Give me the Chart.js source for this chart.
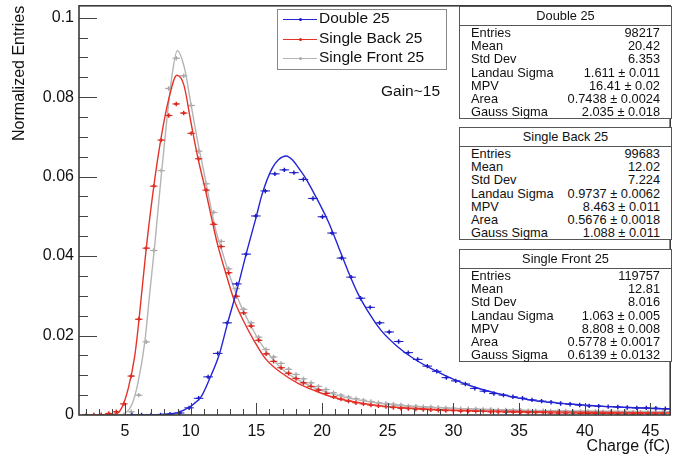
<!DOCTYPE html>
<html><head><meta charset="utf-8">
<script src="https://cdn.jsdelivr.net/npm/chart.js@4.4.0/dist/chart.umd.min.js"></script>
<style>
html,body{margin:0;padding:0;background:#fff;overflow:hidden;width:674px;height:456px}
#wrap{position:relative;width:676px;height:456px}
#c{position:absolute;left:0;top:0}
.ov{position:absolute;font-family:"Liberation Sans",Arial,Helvetica,sans-serif;color:#111;white-space:nowrap}
.box{position:absolute;border:1px solid #555;background:#fff;box-sizing:border-box;font-family:"Liberation Sans",Arial,Helvetica,sans-serif;color:#111;font-size:12.8px}
.box .ttl{position:absolute;left:0;right:0;top:0;height:18px;line-height:18px;text-align:center;border-bottom:1px solid #555}
.box .row{position:absolute;left:11px;right:11px;height:13.2px;line-height:13.2px}
.box .row .l{position:absolute;left:0}
.box .row .v{position:absolute;right:0}
.leg{position:absolute;border:1px solid #888;background:#fff;box-sizing:border-box;font-family:"Liberation Sans",Arial,Helvetica,sans-serif;color:#111;font-size:15.5px}
.leg .ln{position:absolute;height:0;border-top:1px solid}
.leg .dot{position:absolute;width:3px;height:3px;border-radius:50%}
.leg .tx{position:absolute;line-height:18px}
</style>
</head><body>
<div id="wrap"><canvas id="c" width="676" height="456"></canvas></div>
<script>
// ---------- data ----------
const xTickValues = [5, 10, 15, 20, 25, 30, 35, 40, 45];
const xTickLabels = ['5', '10', '15', '20', '25', '30', '35', '40', '45'];
const yTickValues = [0, 0.02, 0.04, 0.06, 0.08, 0.1];
const yTickLabels = ['0', '0.02', '0.04', '0.06', '0.08', '0.1'];

const seriesNames = ['Double 25', 'Single Back 25', 'Single Front 25'];

// bin centres (Charge, fC)
const doubleX = [5.53, 6.26, 6.98, 7.71, 8.43, 9.16, 9.88, 10.61, 11.33, 12.06, 12.78, 13.51, 14.23, 14.96, 15.68, 16.41,
  17.13, 17.86, 18.58, 19.31, 20.03, 20.76, 21.48, 22.21, 22.93, 23.66, 24.38, 25.11, 25.83, 26.56, 27.28, 28.01, 28.73,
  29.46, 30.18, 30.91, 31.63, 32.36, 33.08, 33.81, 34.53, 35.26, 35.98, 36.71, 37.43, 38.16, 38.88, 39.61, 40.33, 41.06,
  41.78, 42.51, 43.23, 43.96, 44.68, 45.41, 46.13];
const doubleY = [0, 0, 0, 0, 0.0002, 0.0005, 0.0018, 0.0042, 0.0096, 0.0155, 0.0232, 0.0330, 0.0405, 0.0501, 0.0564, 0.0607,
  0.0617, 0.0610, 0.0593, 0.0545, 0.0499, 0.0458, 0.0395, 0.0347, 0.0294, 0.0271, 0.0232, 0.0209, 0.0185, 0.0157, 0.0140,
  0.0123, 0.0110, 0.0094, 0.0086, 0.0078, 0.0067, 0.0060, 0.0054, 0.0050, 0.0046, 0.0042, 0.0038, 0.0035, 0.0032, 0.0029,
  0.0027, 0.0025, 0.0023, 0.0022, 0.0021, 0.0020, 0.0019, 0.0018, 0.0018, 0.0017, 0.0016];

const singleX = [2.06, 2.63, 3.20, 3.77, 4.34, 4.91, 5.48, 6.05, 6.62, 7.19, 7.76, 8.33, 8.90, 9.47, 10.04, 10.61, 11.18,
  11.75, 12.32, 12.89, 13.46, 14.03, 14.60, 15.17, 15.74, 16.31, 16.88, 17.45, 18.02, 18.59, 19.16, 19.73, 20.30, 20.87,
  21.44, 22.01, 22.58, 23.15, 23.72, 24.29, 24.86, 25.43, 26.00, 26.57, 27.14, 27.71, 28.28, 28.85, 29.42, 29.99, 30.56,
  31.13, 31.70, 32.27, 32.84, 33.41, 33.98, 34.55, 35.12, 35.69, 36.26, 36.83, 37.40, 37.97, 38.54, 39.11, 39.68, 40.25,
  40.82, 41.39, 41.96, 42.53, 43.10, 43.67, 44.24, 44.81, 45.38, 45.95];
const backY = [0, 0, 0.0001, 0.0004, 0.0008, 0.0028, 0.0098, 0.0241, 0.0420, 0.0576, 0.0692, 0.0754,
  0.0783, 0.0760, 0.0709, 0.0645, 0.0566, 0.0480, 0.0424, 0.0358, 0.0299, 0.0257, 0.0224, 0.0188,
  0.0154, 0.0135, 0.0119, 0.0105, 0.0092, 0.0081, 0.0072, 0.0063, 0.0054, 0.0046, 0.0040, 0.0035,
  0.0031, 0.0028, 0.0025, 0.0023, 0.0021, 0.0019, 0.0017, 0.0016, 0.0015, 0.0014, 0.0013, 0.0012,
  0.0011, 0.0011, 0.0010, 0.0010, 0.0009, 0.0009, 0.0008, 0.0008, 0.0007, 0.0007, 0.0007, 0.0006,
  0.0006, 0.0006, 0.0005, 0.0005, 0.0005, 0.0005, 0.0004, 0.0004, 0.0004, 0.0004, 0.0004, 0.0003,
  0.0003, 0.0003, 0.0003, 0.0003, 0.0003, 0.0003];
const frontY = [0, 0, 0, 0, 0, 0.0001, 0.0008, 0.0050, 0.0184, 0.0414, 0.0615, 0.0822,
  0.0898, 0.0854, 0.0779, 0.0664, 0.0582, 0.0510, 0.0437, 0.0368, 0.0318, 0.0266, 0.0232, 0.0196,
  0.0165, 0.0146, 0.0130, 0.0115, 0.0102, 0.0091, 0.0081, 0.0072, 0.0064, 0.0056, 0.0050, 0.0045,
  0.0041, 0.0037, 0.0034, 0.0031, 0.0029, 0.0027, 0.0025, 0.0023, 0.0022, 0.0021, 0.0020, 0.0019,
  0.0018, 0.0017, 0.0016, 0.0016, 0.0015, 0.0014, 0.0014, 0.0013, 0.0013, 0.0012, 0.0012, 0.0011,
  0.0011, 0.0011, 0.0010, 0.0010, 0.0010, 0.0009, 0.0009, 0.0009, 0.0009, 0.0008, 0.0008, 0.0008,
  0.0008, 0.0007, 0.0007, 0.0007, 0.0007, 0.0007];

// fitted Landau (x) Gauss curves
const doubleFitX = [5.5, 7.0, 8.0, 9.0, 10.0, 10.8, 11.4, 12.2, 12.8, 13.55, 14.3, 15.0, 15.44, 16.19, 16.7, 17.28, 17.8,
  18.3, 18.71, 19.47, 20.47, 21.23, 21.98, 22.74, 23.74, 24.49, 25.75, 27.02, 28.53, 30.15, 32.0, 34.57, 37.0, 39.6, 42.5, 46.5];
const doubleFitY = [0, 0, 0.0002, 0.0006, 0.0022, 0.0046, 0.0088, 0.0155, 0.0230, 0.0318, 0.0415, 0.0500, 0.0556, 0.0620,
  0.0643, 0.0652, 0.0640, 0.0618, 0.0598, 0.0553, 0.0487, 0.0425, 0.0362, 0.0305, 0.0248, 0.0213, 0.0172, 0.0141, 0.0113,
  0.0088, 0.0066, 0.0045, 0.0033, 0.0026, 0.0020, 0.0015];
const backFitX = [3.5, 4.25, 4.75, 5.25, 5.75, 6.05, 6.62, 7.19, 7.76, 8.33, 8.95, 9.48, 10.03, 10.53, 11.17, 11.66, 12.04,
  12.8, 13.3, 14.06, 14.81, 15.69, 16.95, 18.21, 19.47, 20.72, 21.98, 24.49, 27.02, 29.53, 35, 40, 46.5];
const backFitY = [0, 0.0002, 0.0018, 0.0067, 0.0150, 0.0235, 0.0420, 0.0575, 0.0700, 0.0795, 0.0855, 0.0831, 0.0735,
  0.0650, 0.0560, 0.0485, 0.0430, 0.0343, 0.0290, 0.0234, 0.0188, 0.0142, 0.0105, 0.0079, 0.0061, 0.0046, 0.0036,
  0.0023, 0.0017, 0.0013, 0.0009, 0.0007, 0.0005];
const frontFitX = [4.87, 5.51, 6.0, 6.51, 6.89, 7.26, 7.39, 7.77, 8.15, 8.52, 8.98, 9.53, 10.03, 10.53, 11.04, 11.54, 11.92,
  12.42, 13.05, 13.81, 14.56, 15.44, 16.95, 18.21, 19.47, 20.72, 21.98, 24.49, 27.02, 29.53, 35, 40, 46.5];
const frontFitY = [0, 0.0025, 0.0083, 0.0184, 0.0309, 0.0426, 0.0472, 0.0606, 0.0731, 0.0840, 0.0917, 0.0873, 0.0781,
  0.0689, 0.0606, 0.0522, 0.0464, 0.0409, 0.0343, 0.0276, 0.0226, 0.0175, 0.0116, 0.0088, 0.0068, 0.0054, 0.0043,
  0.0029, 0.0021, 0.0017, 0.0012, 0.0010, 0.0008];

const statsDouble = [['Entries', '98217'], ['Mean', '20.42'], ['Std Dev', '6.353'], ['Landau Sigma', '1.611 \u00b1 0.011'],
  ['MPV', '16.41 \u00b1 0.02'], ['Area', '0.7438 \u00b1 0.0024'], ['Gauss Sigma', '2.035 \u00b1 0.018']];
const statsBack = [['Entries', '99683'], ['Mean', '12.02'], ['Std Dev', '7.224'], ['Landau Sigma', '0.9737 \u00b1 0.0062'],
  ['MPV', '8.463 \u00b1 0.011'], ['Area', '0.5676 \u00b1 0.0018'], ['Gauss Sigma', '1.088 \u00b1 0.011']];
const statsFront = [['Entries', '119757'], ['Mean', '12.81'], ['Std Dev', '8.016'], ['Landau Sigma', '1.063 \u00b1 0.005'],
  ['MPV', '8.808 \u00b1 0.008'], ['Area', '0.5778 \u00b1 0.0017'], ['Gauss Sigma', '0.6139 \u00b1 0.0132']];

// ---------- style ----------
const FONT = '"Liberation Sans", Arial, Helvetica, sans-serif';
const colors = ['#2323d8', '#e5332a', '#b4b4b4'];
const markColors = ['#1a1ac0', '#d9251c', '#a8a8a8'];

function pts(xs, ys) { return xs.map((x, i) => ({x: x, y: ys[i]})); }

function histSets(xs, ys, ci, halfW) {
  return [
    {type: 'scatter', data: pts(xs, ys), pointStyle: 'line', pointRadius: halfW, borderColor: markColors[ci], borderWidth: 1, backgroundColor: markColors[ci]},
    {type: 'scatter', data: pts(xs, ys), pointStyle: 'cross', pointRadius: 2.2, borderColor: markColors[ci], borderWidth: 1.4, backgroundColor: markColors[ci]}
  ];
}
function fitSet(xs, ys, ci) {
  return {type: 'line', data: pts(xs, ys), borderColor: colors[ci], borderWidth: 1.4, pointRadius: 0, cubicInterpolationMode: 'monotone', fill: false};
}

const frameTicks = {
  id: 'frameTicks',
  afterDatasetsDraw(chart) {
    const {ctx, chartArea: a, scales: {x, y}} = chart;
    ctx.save();
    ctx.strokeStyle = '#444';
    ctx.lineWidth = 1;
    ctx.beginPath();
    for (let v = 2; v <= 46; v++) {
      const px = Math.round(x.getPixelForValue(v)) + 0.5;
      const len = (v % 5 === 0) ? 12 : 6;
      ctx.moveTo(px, a.bottom); ctx.lineTo(px, a.bottom - len);
    }
    for (let i = 1; i <= 20; i++) {
      const py = Math.round(y.getPixelForValue(i * 0.005)) + 0.5;
      const len = (i % 4 === 0) ? 18 : 9;
      ctx.moveTo(a.left, py); ctx.lineTo(a.left + len, py);
    }
    ctx.stroke();
    ctx.lineWidth = 1.6;
    ctx.strokeStyle = '#3a3a3a';
    ctx.strokeRect(a.left, a.top, a.right - a.left, a.bottom - a.top);
    ctx.restore();
  }
};

new Chart(document.getElementById('c'), {
  type: 'scatter',
  data: {
    datasets: [
      fitSet(doubleFitX, doubleFitY, 0),
      ...histSets(doubleX, doubleY, 0, 4.8),
      fitSet(backFitX, backFitY, 1),
      ...histSets(singleX, backY, 1, 3.8),
      fitSet(frontFitX, frontFitY, 2),
      ...histSets(singleX, frontY, 2, 3.8)
    ]
  },
  plugins: [frameTicks],
  options: {
    responsive: false, animation: false, events: [], devicePixelRatio: 1,
    layout: {padding: {top: 4, right: 1, left: 0, bottom: 0}},
    plugins: {legend: {display: false}, tooltip: {enabled: false}},
    scales: {
      x: {
        type: 'linear', min: 1.5, max: 46.5,
        grid: {display: false, drawTicks: false}, border: {display: false},
        afterBuildTicks: s => { s.ticks = xTickValues.map(v => ({value: v})); },
        ticks: {autoSkip: false, maxRotation: 0, minRotation: 0, padding: 7, color: '#111', font: {family: FONT, size: 16},
          callback: (v, i) => xTickLabels[i]},
        title: {display: true, text: 'Charge (fC)', align: 'end', color: '#111', font: {family: FONT, size: 16}, padding: {top: 0, bottom: 0}},
        afterFit: s => { s.height = 41; s.paddingLeft = 0; s.paddingRight = 0; }
      },
      y: {
        type: 'linear', min: 0, max: 0.103,
        grid: {display: false, drawTicks: false}, border: {display: false},
        afterBuildTicks: s => { s.ticks = yTickValues.map(v => ({value: v})); },
        ticks: {autoSkip: false, padding: 5, color: '#111', font: {family: FONT, size: 16},
          callback: (v, i) => yTickLabels[i]},
        title: {display: true, text: 'Normalized Entries', align: 'end', color: '#111', font: {family: FONT, size: 16}, padding: {top: 10, bottom: 0}},
        afterFit: s => { s.width = 79; s.paddingTop = 0; s.paddingBottom = 0; }
      }
    }
  }
});

// ---------- overlays: legend, label, stat boxes ----------
const wrap = document.getElementById('wrap');
const leg = document.createElement('div');
leg.className = 'leg';
Object.assign(leg.style, {left: '277px', top: '9px', width: '170px', height: '61px'});
const legRowY = [9, 29, 48];
seriesNames.forEach((n, i) => {
  const ln = document.createElement('div'); ln.className = 'ln';
  Object.assign(ln.style, {left: '5px', width: '34px', top: (legRowY[i] - 0.5) + 'px', borderTopColor: colors[i]});
  const d = document.createElement('div'); d.className = 'dot';
  Object.assign(d.style, {left: '20.5px', top: (legRowY[i] - 1.5) + 'px', background: markColors[i]});
  const t = document.createElement('div'); t.className = 'tx'; t.textContent = n;
  Object.assign(t.style, {left: '41px', top: (legRowY[i] - 10) + 'px'});
  leg.appendChild(ln); leg.appendChild(d); leg.appendChild(t);
});
wrap.appendChild(leg);

const gain = document.createElement('div');
gain.className = 'ov'; gain.textContent = 'Gain~15';
Object.assign(gain.style, {left: '381px', top: '81px', fontSize: '15.5px', lineHeight: '20px'});
wrap.appendChild(gain);

const boxes = [[seriesNames[0], statsDouble, 6], [seriesNames[1], statsBack, 127], [seriesNames[2], statsFront, 249]];
boxes.forEach(([name, rows, top]) => {
  const b = document.createElement('div'); b.className = 'box';
  Object.assign(b.style, {left: '459px', top: top + 'px', width: '213px', height: '113px'});
  const t = document.createElement('div'); t.className = 'ttl'; t.textContent = name; b.appendChild(t);
  rows.forEach((r, i) => {
    const row = document.createElement('div'); row.className = 'row';
    row.style.top = (19 + i * 13.2) + 'px';
    const l = document.createElement('span'); l.className = 'l'; l.textContent = r[0];
    const v = document.createElement('span'); v.className = 'v'; v.textContent = r[1];
    row.appendChild(l); row.appendChild(v); b.appendChild(row);
  });
  wrap.appendChild(b);
});
</script>
</body></html>
